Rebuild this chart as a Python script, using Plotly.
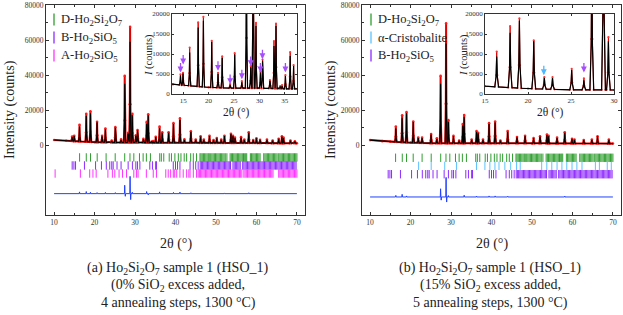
import numpy as np
import plotly.graph_objects as go

W, H = 623, 315
FONT = "Liberation Serif"
TXT = "#222222"
AX = "#333333"

GREEN = "#2f9e2f"
PURPLE = "#8f2bff"
MAGENTA = "#ff33ff"
CYAN = "#5cc3ff"
BLUE = "#2040ff"
ARROW_PURPLE = "#a64dff"
ARROW_CYAN = "#4db8ff"

# ---------------- panel (a) : 0 % SiO2 excess ----------------
a_tt = [14.47, 14.97, 16.28, 17.95, 18.98, 20.62, 21.86, 22.68, 24.24, 25.14,
        26.55, 27.45, 28.29, 28.78, 29.33, 30.2, 30.62, 32.07, 32.87, 33.27,
        34.1, 34.46, 35.12, 36.06, 36.73, 38.3, 39.5, 41.1, 42.2, 43.8,
        45.0, 46.2, 47.0, 48.4, 49.4, 50.2, 51.3, 52.1, 53.7, 54.2,
        54.7, 56.2, 57.0, 58.1, 59.2, 60.0, 60.9, 62.6, 64.0, 65.5,
        66.3, 66.7, 68.4, 69.5]
a_calc = [4600, 5100, 10400, 16600, 18300, 13000, 5000, 9000, 2300, 9900,
          2900, 35000, 6600, 59000, 17000, 5400, 8300, 3300, 12000, 17000,
          1900, 2000, 4500, 9500, 7000, 7000, 12000, 14300, 3000, 7600,
          3000, 4800, 3000, 5100, 2800, 3800, 3000, 5100, 6200, 5100,
          4000, 4300, 3000, 7000, 2800, 3800, 2900, 3000, 2500, 3500,
          4800, 4000, 2500, 2000]
a_obs = [4900, 5300, 11600, 17900, 19300, 13300, 5300, 9400, 2500, 10200,
         3200, 39500, 7000, 67500, 17800, 5600, 8600, 3500, 13200, 17600,
         2000, 2200, 4700, 10500, 7200, 7300, 12500, 15200, 3200, 7900,
         3100, 5000, 3100, 5300, 2900, 4000, 3100, 5300, 6400, 5300,
         4200, 4500, 3100, 7300, 2900, 3900, 3000, 3100, 2600, 3600,
         5000, 4200, 2600, 2100]
a_bg_tt = [10, 13, 15, 20, 25, 30, 35, 40, 50, 60, 70]
a_bg = [2900, 2400, 2200, 1650, 1450, 1450, 1300, 1300, 1200, 1100, 1000]
a_diff_tt = [16.28, 17.95, 18.98, 20.62, 22.68, 25.14, 27.45, 27.6, 28.78, 28.92,
             29.33, 32.87, 33.27, 36.06, 39.5, 41.1, 43.8, 52.1, 58.1]
a_diff = [1000, 1200, 800, 600, 700, 600, 4800, -1500, 9900, -3400,
          800, 1200, -700, 1000, 700, 900, 500, 400, 500]
a_diff_offset = -27800
a_arrow_tt = [14.48, 15.0, 21.85, 24.24, 26.55, 28.29, 30.2, 30.6, 35.12]
a_arrow_tip = [5400, 7400, 5800, 2500, 3700, 7000, 5400, 8700, 5400]

# ---------------- panel (b) : 15 % SiO2 excess ----------------
b_tt = [16.36, 17.92, 19.0, 20.67, 21.9, 22.85, 25.08, 26.5, 27.42, 28.78,
        29.35, 30.6, 32.0, 32.9, 33.25, 35.1, 36.3, 36.7, 37.9, 39.4,
        40.9, 42.2, 44.0, 46.3, 48.3, 50.4, 52.0, 53.7, 54.1, 56.2,
        58.1, 59.9, 60.5, 62.8, 64.8, 66.2, 69.0]
b_calc = [9400, 15300, 18300, 13200, 4000, 4000, 6000, 3400, 35000, 58000,
          13200, 5000, 2500, 11000, 16000, 3000, 7600, 6700, 3000, 12000,
          12800, 2500, 7600, 4400, 5100, 3800, 4800, 5700, 5000, 4000,
          7000, 3500, 3000, 2800, 3000, 4800, 3000]
b_obs = [10600, 17000, 18900, 13400, 4200, 4200, 6300, 3900, 39500, 69500,
         14200, 5200, 2600, 12000, 17100, 3100, 8000, 7000, 3100, 12500,
         13400, 2600, 8000, 4600, 5300, 4000, 5000, 6000, 5200, 4200,
         7300, 3600, 3100, 2900, 3100, 5000, 3100]
b_bg_tt = [10, 13, 15, 20, 25, 30, 40, 50, 60, 70]
b_bg = [2800, 2200, 1950, 1350, 1050, 1000, 1000, 950, 900, 800]
b_diff_tt = [16.36, 17.92, 19.0, 27.42, 27.57, 28.78, 28.92, 29.35, 33.25, 36.3,
             39.4, 40.9, 44.0, 58.1]
b_diff = [900, 1500, 600, 4700, -1800, 11200, -2900, 800, 1000, 500,
          600, 600, 400, 500]
b_diff_offset = -29700
b_arrow_tt = [21.84, 26.5]
b_arrow_tip = [4700, 5400]
b_arrow_col = [ARROW_CYAN, ARROW_PURPLE]

# ---------------- Bragg reflection positions ----------------
d_ho2si2o7 = [16.3, 17.95, 19.0, 20.65, 22.85, 25.1, 27.45, 28.75, 29.7, 31.1,
              32.0, 32.8, 33.8, 36.1, 36.5, 37.1, 38.45, 39.0, 39.85, 40.7,
              41.35, 42.15, 42.75, 43.75, 44.4, 45.2,
              46.05, 46.3, 46.6, 46.9, 47.2, 47.5, 47.8, 48.1, 48.35, 48.7,
              49.0, 49.3, 49.6, 49.9, 50.2, 50.5, 50.8, 51.1, 51.4, 51.7,
              52.0, 52.3, 52.7, 53.5, 53.8, 54.1, 54.4, 54.7, 55.0, 55.3,
              55.6, 55.9, 56.2, 56.5, 56.8, 57.1, 57.35, 57.6, 58.5, 58.8,
              59.1, 59.4, 59.7, 60.0, 60.3, 60.6, 60.9, 61.8, 62.1, 62.4,
              62.7, 63.0, 63.3, 63.6, 63.9, 64.2, 64.5, 64.8, 65.1, 65.5,
              65.8, 66.1, 66.4, 66.7, 67.0, 67.3, 67.6, 67.9, 68.2, 68.5,
              68.8, 69.1, 69.4, 69.7, 70.0]
b_ho2sio5 = [14.47, 14.9, 15.3, 17.5, 20.25, 21.7, 22.9, 23.75, 24.25, 24.6,
             25.55, 26.55, 28.3, 29.35, 30.2, 30.6, 31.2, 33.65, 34.3, 35.1,
             35.3, 39.45, 40.0, 40.5, 41.1, 43.6, 44.4, 45.0, 45.6,
             46.1, 46.4, 46.7, 47.0, 47.3, 47.6, 47.9, 48.2, 48.5, 48.8,
             49.1, 49.4, 49.7, 50.0, 50.3, 50.6, 50.9, 51.2, 51.5, 51.8,
             52.1, 52.4, 52.7, 53.0, 53.3, 53.6, 54.2, 54.5, 54.8, 55.1,
             55.4, 55.7, 56.0, 56.6, 56.9, 57.2, 57.5, 57.8, 58.1, 58.4,
             58.7, 59.0, 59.3, 59.6, 59.9, 60.2, 60.5, 60.8, 61.1, 61.4,
             61.7, 62.0, 62.3, 62.6, 62.9, 63.2, 63.5, 63.8, 64.1, 64.4,
             64.7, 65.0, 65.3, 65.6, 65.9, 66.2, 66.5, 66.8, 67.1, 67.4,
             67.7, 68.0, 68.3, 68.6, 68.9, 69.2, 69.5, 69.8]
a_ho2sio5 = [10.25, 16.5, 18.8, 19.6, 20.4, 23.3, 24.4, 25.0, 26.05, 26.9,
             27.9, 29.7, 30.35, 30.75, 32.8, 34.5, 35.3, 37.6, 38.2, 38.8,
             39.45, 39.8, 40.3, 41.1, 41.9, 42.75, 43.3, 43.6, 44.4, 45.2,
             45.6, 45.9, 46.2, 46.5, 46.8, 47.1, 47.4, 47.7, 48.0, 48.3,
             48.6, 48.9, 49.2, 49.5, 49.8, 50.1, 50.4, 50.7, 51.0, 51.3,
             51.6, 51.9, 52.2, 52.5, 52.8, 53.1, 53.4, 53.7, 54.0, 54.3,
             54.6, 54.9, 55.2, 55.5, 55.8, 56.1, 56.4, 56.9, 57.2, 57.5,
             57.8, 58.1, 58.4, 58.7, 59.0, 59.3, 59.6, 59.9, 60.2, 60.5,
             60.8, 61.1, 61.4, 61.7, 62.0, 62.3, 62.6, 62.9, 63.2, 63.5,
             63.8, 64.1, 65.5, 65.8, 66.1, 66.4, 66.7, 67.0, 67.3, 67.6,
             67.9, 68.2, 68.5, 68.8, 69.1, 69.4, 69.7, 70.0]
cristobalite = [21.99, 25.1, 28.44, 31.34, 36.3, 38.37, 39.6, 40.85, 41.85, 43.3,
                44.74, 46.2, 47.1, 52.4, 53.67, 54.9, 56.2, 57.4, 58.6, 59.9,
                61.1, 62.36, 65.67, 66.66, 68.6, 69.6]

# rows of reflection ticks (counts) for each panel
a_rows = [(d_ho2si2o7, -7100, GREEN), (b_ho2sio5, -11700, PURPLE), (a_ho2sio5, -16300, MAGENTA)]
b_rows = [(d_ho2si2o7, -7300, GREEN), (cristobalite, -11900, CYAN), (b_ho2sio5, -16700, PURPLE)]

a_legend = [("D-Ho<sub>2</sub>Si<sub>2</sub>O<sub>7</sub>", GREEN),
            ("B-Ho<sub>2</sub>SiO<sub>5</sub>", PURPLE),
            ("A-Ho<sub>2</sub>SiO<sub>5</sub>", MAGENTA)]
b_legend = [("D-Ho<sub>2</sub>Si<sub>2</sub>O<sub>7</sub>", GREEN),
            ("\u03b1-Cristobalite", CYAN),
            ("B-Ho<sub>2</sub>SiO<sub>5</sub>", PURPLE)]

a_caption = ["(a) Ho<sub>2</sub>Si<sub>2</sub>O<sub>7</sub> sample 1 (HSO_1)",
             "(0% SiO<sub>2</sub> excess added,",
             "4 annealing steps, 1300 \u00b0C)"]
b_caption = ["(b) Ho<sub>2</sub>Si<sub>2</sub>O<sub>7</sub> sample 1 (HSO_1)",
             "(15% SiO<sub>2</sub> excess added,",
             "5 annealing steps, 1300 \u00b0C)"]


def profile(tt, hh, bg_t, bg_y, hw=0.22, fw=0.07):
    """Line through background samples plus a narrow peak at each read position."""
    pts = [(x, y) for x, y in zip(bg_t, bg_y) if min(abs(x - t) for t in tt) > hw]
    for t, h in zip(tt, hh):
        bl = float(np.interp(t - hw, bg_t, bg_y))
        bc = float(np.interp(t, bg_t, bg_y))
        br = float(np.interp(t + hw, bg_t, bg_y))
        pts += [(t - hw, bl), (t - fw, bc + 0.33 * (h - bc)), (t, h),
                (t + fw, bc + 0.33 * (h - bc)), (t + hw, br)]
    pts.sort()
    xs, ys = zip(*pts)
    return list(xs), list(ys)


def diff_curve(tt, vv, offset):
    pts = [(10.0, 0.0), (70.0, 0.0)]
    for t, v in zip(tt, vv):
        pts += [(t - 0.07, 0.0), (t, v), (t + 0.07, 0.0)]
    pts.sort()
    xs, ys = zip(*pts)
    return list(xs), [offset + y for y in ys]


def px(x):
    return x / W


def py(y):
    return 1 - y / H


fig = go.Figure()


def add_panel(xa, ya, xi, yi, tt, obs, calc, bg_t, bg, dtt, dv, doff, rows):
    ox, oy = profile(tt, obs, bg_t, bg)
    cx, cy = profile(tt, calc, bg_t, bg)
    # main plot
    fig.add_trace(go.Scatter(x=ox, y=oy, mode="lines+markers", xaxis=xa, yaxis=ya,
                             line=dict(color="#e00000", width=2.0),
                             marker=dict(color="#ff1a1a", size=2.6), showlegend=False))
    fig.add_trace(go.Scatter(x=cx, y=cy, mode="lines", xaxis=xa, yaxis=ya,
                             line=dict(color="black", width=1.1), showlegend=False))
    dx, dy = diff_curve(dtt, dv, doff)
    fig.add_trace(go.Scatter(x=dx, y=dy, mode="lines", xaxis=xa, yaxis=ya,
                             line=dict(color=BLUE, width=1), showlegend=False))
    for pos, yrow, col in rows:
        fig.add_trace(go.Scatter(x=pos, y=[yrow] * len(pos), mode="markers", xaxis=xa, yaxis=ya,
                                 marker=dict(symbol="line-ns", size=6, color=col,
                                             line=dict(color=col, width=1)),
                                 showlegend=False))
    # inset
    fig.add_trace(go.Scatter(x=ox, y=oy, mode="lines+markers", xaxis=xi, yaxis=yi,
                             line=dict(color="#e00000", width=1.0),
                             marker=dict(color="#ff3333", size=2.2), showlegend=False))
    fig.add_trace(go.Scatter(x=cx, y=cy, mode="lines", xaxis=xi, yaxis=yi,
                             line=dict(color="black", width=1.2), showlegend=False))


add_panel("x", "y", "x3", "y3", a_tt, a_obs, a_calc, a_bg_tt, a_bg,
          a_diff_tt, a_diff, a_diff_offset, a_rows)
add_panel("x2", "y2", "x4", "y4", b_tt, b_obs, b_calc, b_bg_tt, b_bg,
          b_diff_tt, b_diff, b_diff_offset, b_rows)

tickfont = dict(family=FONT, size=7.5, color=AX)
insetfont = dict(family=FONT, size=7, color=AX)


def main_x(dom, anchor):
    return dict(domain=[px(dom[0]), px(dom[1])], anchor=anchor, range=[8, 72], automargin=False,
                tickvals=[10, 20, 30, 40, 50, 60, 70], ticks="inside", ticklen=3,
                tickwidth=0.8, tickcolor=AX, showline=True, linecolor=AX, linewidth=1,
                mirror="ticks", showgrid=False, zeroline=False, tickfont=tickfont,
                minor=dict(tickvals=[15, 25, 35, 45, 55, 65], ticks="inside", ticklen=2,
                           tickcolor=AX, tickwidth=0.8))


def main_y(anchor):
    return dict(domain=[py(215), py(5)], anchor=anchor, range=[-40000, 80000], automargin=False,
                tickvals=[0, 20000, 40000, 60000, 80000],
                ticktext=["0", "20000", "40000", "60000", "80000"],
                ticks="inside", ticklen=3, tickwidth=0.8, tickcolor=AX, showline=True,
                linecolor=AX, linewidth=1, mirror="ticks", showgrid=False, zeroline=False,
                tickfont=tickfont,
                minor=dict(tickvals=[10000, 30000, 50000, 70000], ticks="inside", ticklen=2,
                           tickcolor=AX, tickwidth=0.8))


def inset_x(dom, anchor, rng, vals):
    return dict(domain=[px(dom[0]), px(dom[1])], anchor=anchor, range=rng, tickvals=vals,
                automargin=False,
                ticks="inside", ticklen=2.5, tickwidth=0.7, tickcolor=AX, showline=True,
                linecolor=AX, linewidth=0.8, mirror="ticks", showgrid=False, zeroline=False,
                tickfont=insetfont)


def inset_y(anchor):
    return dict(domain=[py(94), py(14)], anchor=anchor, range=[0, 20000], automargin=False,
                tickvals=[0, 5000, 10000, 15000, 20000],
                ticktext=["0", "5000", "10000", "15000", "20000"],
                ticks="inside", ticklen=2.5, tickwidth=0.7, tickcolor=AX, showline=True,
                linecolor=AX, linewidth=0.8, mirror="ticks", showgrid=False, zeroline=False,
                tickfont=insetfont)


annotations = []
shapes = []


def text(t, x, y, size, **kw):
    d = dict(text=t, x=px(x), y=py(y), xref="paper", yref="paper", showarrow=False,
             font=dict(family=FONT, size=size, color=TXT), xanchor="center", yanchor="middle")
    d.update(kw)
    annotations.append(d)


# axis titles
text("Intensity (counts)", 10, 110, 14, textangle=-90)
text("Intensity (counts)", 331, 110, 14, textangle=-90)
text("2\u03b8 (\u00b0)", 175.5, 244, 14)
text("2\u03b8 (\u00b0)", 491.5, 244, 14)
text("<i>I</i> (counts)", 149, 55, 10.5, textangle=-90)
text("<i>I</i> (counts)", 464, 55, 10.5, textangle=-90)
text("2\u03b8 (\u00b0)", 236, 112, 11.5)
text("2\u03b8 (\u00b0)", 550, 112, 11.5)

# legends
for (lx, items) in [(54, a_legend), (371, b_legend)]:
    for i, (lab, col) in enumerate(items):
        yc = 19.5 + 18 * i
        shapes.append(dict(type="line", xref="paper", yref="paper", x0=px(lx), x1=px(lx),
                           y0=py(yc - 6), y1=py(yc + 6), line=dict(color=col, width=1.3)))
        text(lab, lx + 5, yc, 12.5, xanchor="left")

# captions
for cx, lines in [(178, a_caption), (490, b_caption)]:
    for i, line in enumerate(lines):
        text(line, cx, 268 + 17.5 * i, 14)

# arrows in insets
for t, tip in zip(a_arrow_tt, a_arrow_tip):
    annotations.append(dict(x=t, y=tip, xref="x3", yref="y3", ax=0, ay=-11, text="",
                            showarrow=True, arrowhead=2, arrowsize=0.9, arrowwidth=1.3,
                            arrowcolor=ARROW_PURPLE))
for t, tip, col in zip(b_arrow_tt, b_arrow_tip, b_arrow_col):
    annotations.append(dict(x=t, y=tip, xref="x4", yref="y4", ax=0, ay=-11, text="",
                            showarrow=True, arrowhead=2, arrowsize=0.9, arrowwidth=1.3,
                            arrowcolor=col))

fig.update_layout(
    width=W, height=H, autosize=False,
    margin=dict(l=0, r=0, t=0, b=0, autoexpand=False),
    paper_bgcolor="white", plot_bgcolor="white",
    showlegend=False,
    font=dict(family=FONT, color=TXT),
    xaxis=main_x((46, 305), "y"), yaxis=main_y("x"),
    xaxis2=main_x((362, 621), "y2"), yaxis2=main_y("x2"),
    xaxis3=inset_x((172, 297), "y3", [12.8, 37.4], [15, 20, 25, 30, 35]), yaxis3=inset_y("x3"),
    xaxis4=inset_x((485, 614), "y4", [15, 30], [15, 20, 25, 30]), yaxis4=inset_y("x4"),
    annotations=annotations, shapes=shapes,
)

# remove the default 8 px page margin so the figure sits at the window origin
fig.write_html("out.html", config={"displayModeBar": False},
               post_script="document.body.style.margin='0px';")
